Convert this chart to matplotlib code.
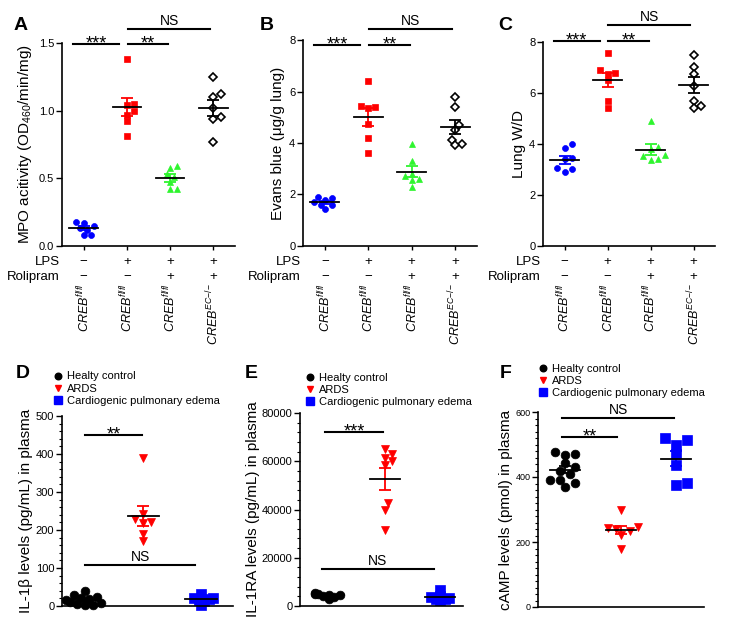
import numpy as np
import matplotlib
matplotlib.use('Agg')
import matplotlib.pyplot as plt
from matplotlib.ticker import MultipleLocator, FormatStrFormatter

plt.rcParams['font.family'] = ['Liberation Sans', 'DejaVu Sans']
plt.rcParams['mathtext.fontset'] = 'custom'
plt.rcParams['mathtext.rm'] = 'Liberation Sans'
plt.rcParams['mathtext.it'] = 'Liberation Sans:italic'
plt.rcParams['mathtext.bf'] = 'Liberation Sans:bold'

# ---- data ----
mpo_ctrl = [0.18, 0.17, 0.15, 0.13, 0.12, 0.08, 0.08]
mpo_lps = [1.38, 1.05, 1.04, 1.00, 0.97, 0.92, 0.81]
mpo_roli = [0.59, 0.58, 0.53, 0.51, 0.47, 0.42, 0.42]
mpo_ko = [1.25, 1.12, 1.10, 1.02, 0.95, 0.94, 0.77]

evans_ctrl = [1.91, 1.86, 1.79, 1.69, 1.61, 1.58, 1.43]
evans_lps = [6.40, 5.45, 5.38, 5.35, 4.75, 4.20, 3.62]
evans_roli = [3.96, 3.30, 2.80, 2.70, 2.62, 2.55, 2.30]
evans_ko = [5.78, 5.38, 4.68, 4.50, 4.10, 3.95, 3.92]

wd_ctrl = [4.01, 3.86, 3.45, 3.40, 3.05, 3.03, 2.90]
wd_lps = [7.58, 6.90, 6.80, 6.75, 6.50, 5.70, 5.42]
wd_roli = [4.92, 3.90, 3.80, 3.55, 3.52, 3.38, 3.40]
wd_ko = [7.48, 7.02, 6.76, 6.29, 5.68, 5.48, 5.42]

il1b_healthy = [40, 30, 25, 20, 18, 15, 10, 8, 5, 2, 2]
il1b_ards = [390, 242, 228, 220, 218, 190, 170]
il1b_cpe = [32, 22, 20, 18, 15, 12, 2]

il1ra_healthy = [5400, 5100, 4900, 4700, 4400, 4200, 3800, 2800]
il1ra_ards = [65000, 63000, 61500, 60000, 58500, 42500, 40000, 31500]
il1ra_cpe = [6500, 4200, 3800, 3400, 3000, 2700, 2500]

camp_healthy = [476, 472, 468, 443, 430, 420, 408, 392, 390, 382, 370]
camp_ards = [298, 245, 242, 240, 235, 222, 178]
camp_cpe = [521, 513, 500, 470, 436, 382, 374]

lps_signs = ['\u2212', '+', '+', '+']
roli_signs = ['\u2212', '\u2212', '+', '+']
genotypes = [r'$CREB^{fl/fl}$', r'$CREB^{fl/fl}$', r'$CREB^{fl/fl}$', r'$CREB^{EC{-}/{-}}$']
patient_groups = ['Healty control', 'ARDS', 'Cardiogenic pulmonary edema']

BLUE, RED, GREEN = '#0000ff', '#ff0000', '#2ef52e'

W, H = 732, 625
fig = plt.figure(figsize=(W / 100, H / 100), dpi=100)


def make_ax(l, t, r, b):
    ax = fig.add_axes([l / W, 1 - b / H, (r - l) / W, (b - t) / H])
    ax.spines['top'].set_visible(False)
    ax.spines['right'].set_visible(False)
    for s in ('left', 'bottom'):
        ax.spines[s].set_linewidth(1.2)
    ax.tick_params(axis='y', length=4, width=1, labelsize=8, pad=1.5)
    return ax


def swarm_x(ax, center, vals, d):
    # push touching points sideways (in pixels), like a beeswarm
    pts = ax.transData.transform([(center, v) for v in vals])
    placed = []
    xs = np.zeros(len(vals))
    for i in np.argsort(vals):
        y = pts[i, 1]
        for k in [0, 1, -1, 2, -2, 3, -3, 4, -4, 5, -5]:
            x = pts[i, 0] + k * d * 0.55
            if all((x - px) ** 2 + (y - py) ** 2 >= (0.9 * d) ** 2 for px, py in placed):
                break
        placed.append((x, y))
        xs[i] = ax.transData.inverted().transform((x, y))[0]
    return xs


def group(ax, center, vals, color, marker, ms, hw, d, face=None, ecolor=None):
    vals = np.array(vals, dtype=float)
    xs = swarm_x(ax, center, vals, d)
    ax.plot(xs, vals, ls='none', marker=marker, ms=ms, color=color, clip_on=False,
            mfc=face if face else color, mec=color, mew=1.2 if face else 0.5, zorder=2)
    m = vals.mean()
    sem = vals.std(ddof=1) / np.sqrt(len(vals))
    ax.errorbar(center, m, yerr=sem, fmt='none', ecolor=ecolor or color,
                elinewidth=1.3, capsize=4.5, capthick=1.3, zorder=3)
    ax.plot([center - hw, center + hw], [m, m], color='k', lw=1.3, zorder=4)


def sig(ax, x1, x2, y, label, dy, fs):
    ax.plot([x1, x2], [y, y], color='k', lw=1.5, clip_on=False)
    ax.annotate(label, xy=((x1 + x2) / 2, y), xytext=(0, dy), textcoords='offset pixels',
                ha='center', va='baseline', fontsize=fs, annotation_clip=False)


# ---------------- top row ----------------
top = [
    ('A', (62, 43, 235, 246), [mpo_ctrl, mpo_lps, mpo_roli, mpo_ko], 1.5, 0.5,
     'MPO acitivity (OD$_{460}$/min/mg)', -0.16, (1.49, 1.6), '%.1f', (21, 26)),
    ('B', (303, 40, 477, 246), [evans_ctrl, evans_lps, evans_roli, evans_ko], 8, 2,
     'Evans blue (\u03bcg/g lung)', -0.105, (7.8, 8.42), '%d', (267, 26)),
    ('C', (543, 42, 715, 246), [wd_ctrl, wd_lps, wd_roli, wd_ko], 8, 2,
     'Lung W/D', -0.10, (8.02, 8.66), '%d', (505, 26)),
]
styles = [(BLUE, 'o', 4.3, None), (RED, 's', 3.8, None), (GREEN, '^', 4.3, None), ('k', 'D', 3.6, 'white')]

for letter, rect, series, ymax, step, ylab, labx, (ys, yns), fmt, lpos in top:
    ax = make_ax(*rect)
    ax.set_xlim(0.5, 4.5)
    ax.set_ylim(0, ymax)
    ax.yaxis.set_major_locator(MultipleLocator(step))
    ax.yaxis.set_major_formatter(FormatStrFormatter(fmt))
    ax.set_xticks([1, 2, 3, 4])
    ax.set_xticklabels([])
    ax.tick_params(axis='x', length=3, width=1)
    for i, (vals, (c, mk, ms, face)) in enumerate(zip(series, styles)):
        group(ax, i + 1, vals, c, mk, ms, 0.33, 6.5, face=face)
    ax.set_ylabel(ylab, fontsize=11)
    ax.yaxis.set_label_coords(labx, 0.5)
    sig(ax, 0.75, 1.82, ys, '***', -4, 13)
    sig(ax, 2.02, 2.96, ys, '**', -4, 13)
    sig(ax, 2.02, 3.93, yns, 'NS', 4, 10)
    xt = ax.get_xaxis_transform()
    ax.annotate('LPS', xy=(0, 0), xycoords='axes fraction', xytext=(-2, -16),
                textcoords='offset pixels', ha='right', va='center', fontsize=9.5)
    ax.annotate('Rolipram', xy=(0, 0), xycoords='axes fraction', xytext=(-2, -31),
                textcoords='offset pixels', ha='right', va='center', fontsize=9.5)
    for i in range(4):
        ax.annotate(lps_signs[i], xy=(i + 1, 0), xycoords=xt, xytext=(0, -16),
                    textcoords='offset pixels', ha='center', va='center', fontsize=9.5)
        ax.annotate(roli_signs[i], xy=(i + 1, 0), xycoords=xt, xytext=(0, -31),
                    textcoords='offset pixels', ha='center', va='center', fontsize=9.5)
        ax.annotate(genotypes[i], xy=(i + 1, 0), xycoords=xt, xytext=(0, -37),
                    textcoords='offset pixels', ha='center', va='top', rotation=90,
                    fontsize=9)
    fig.text(lpos[0] / W, 1 - lpos[1] / H, letter, fontsize=14, fontweight='bold',
             ha='center', va='center')

# ---------------- bottom row ----------------
bottom = [
    ('D', (62, 416, 233, 606), [il1b_healthy, il1b_ards, il1b_cpe], (0.6, 3.55), 500, 100, 20,
     'IL-1\u03b2 levels (pg/mL) in plasma', -0.17, (23, 373), (-0.058, 1.053),
     [(1.0, 1.98, 450, '**', -4), (1.0, 2.9, 108, 'NS', 4)], 8, [7, 7, 4.5]),
    ('E', (300, 413, 463, 606), [il1ra_healthy, il1ra_ards, il1ra_cpe], (0.48, 3.41), 80000, 20000, 4000,
     'IL-1RA levels (pg/mL) in plasma', -0.245, (251, 373), (0.025, 1.031),
     [(0.93, 1.98, 72000, '***', -4), (0.87, 2.89, 15500, 'NS', 4)], 8, [5, 7, 4]),
    ('F', (538, 412, 704, 607), [camp_healthy, camp_ards, camp_cpe], (0.51, 3.5), 600, 200, 20,
     'cAMP levels (pmol) in plasma', -0.15, (506, 374), (-0.006, 1.072),
     [(0.95, 1.93, 523, '**', -4), (0.95, 2.96, 583, 'NS', 4)], 6.5, [9, 8, 10]),
]
pstyles = [('k', 'o', 6.3), (RED, 'v', 5.5), (BLUE, 's', 7.3)]

for letter, rect, series, xlim, ymax, step, minor, ylab, labx, lpos, legpos, sigs, tfs, dists in bottom:
    ax = make_ax(*rect)
    ax.set_xlim(*xlim)
    ax.set_ylim(0, ymax)
    ax.yaxis.set_major_locator(MultipleLocator(step))
    ax.yaxis.set_minor_locator(MultipleLocator(minor))
    ax.tick_params(axis='y', which='minor', length=2.5, width=0.8)
    ax.tick_params(axis='y', labelsize=tfs)
    ax.set_xticks([])
    handles = []
    for i, (vals, (c, mk, ms)) in enumerate(zip(series, pstyles)):
        group(ax, i + 1, vals, c, mk, ms, 0.27, dists[i])
        handles.append(plt.Line2D([], [], ls='none', marker=mk, ms=ms * 0.75, color=c))
    ax.set_ylabel(ylab, fontsize=11)
    ax.yaxis.set_label_coords(labx, 0.5)
    for x1, x2, y, lab, dy in sigs:
        sig(ax, x1, x2, y, lab, dy, 13 if '*' in lab else 10)
    ax.legend(handles, patient_groups, loc='lower left', bbox_to_anchor=legpos,
              frameon=False, fontsize=8, handlelength=1.0, handletextpad=0.35,
              labelspacing=0.2, borderpad=0, borderaxespad=0)
    fig.text(lpos[0] / W, 1 - lpos[1] / H, letter, fontsize=14, fontweight='bold',
             ha='center', va='center')

fig.savefig('out.png', dpi=100)
